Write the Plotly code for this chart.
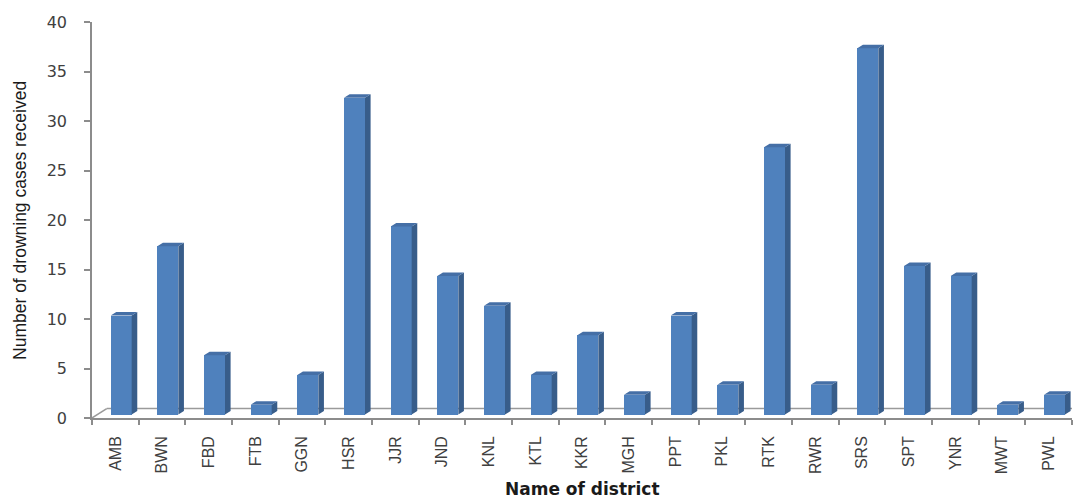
import plotly.graph_objects as go

districts = ["AMB", "BWN", "FBD", "FTB", "GGN", "HSR", "JJR", "JND", "KNL", "KTL", "KKR",
             "MGH", "PPT", "PKL", "RTK", "RWR", "SRS", "SPT", "YNR", "MWT", "PWL"]
cases = [10, 17, 6, 1, 4, 32, 19, 14, 11, 4, 8, 2, 10, 3, 27, 3, 37, 15, 14, 1, 2]
y_ticks = [0, 5, 10, 15, 20, 25, 30, 35, 40]

# style constants for the pseudo-3D look
FRONT = "#4F81BD"
SIDE = "#385D8A"
TOP = "#456FA6"
OFF = -0.10      # front-face start relative to category centre
WIDTH = 0.45     # front-face width (category units)
DX = 0.12        # depth offset, x (category units)
DY = 0.35        # depth offset, y (value units)
BASE = 0.35      # bars sit mid-floor

idx = list(range(len(districts)))

fig = go.Figure()

# front faces
fig.add_trace(go.Bar(x=idx, y=cases, base=[BASE] * len(cases), width=WIDTH, offset=OFF,
                     marker=dict(color=FRONT, line=dict(width=0)), hoverinfo="skip",
                     showlegend=False))

# side and top faces
sx, sy = [], []
tx, ty = [], []
for i, v in zip(idx, cases):
    x0 = i + OFF
    x1 = x0 + WIDTH
    top = BASE + v
    sx += [x1, x1, x1 + DX, x1 + DX, x1, None]
    sy += [BASE, top, top + DY, BASE + DY, BASE, None]
    tx += [x0, x1, x1 + DX, x0 + DX, x0, None]
    ty += [top, top, top + DY, top + DY, top, None]

fig.add_trace(go.Scatter(x=sx, y=sy, mode="lines", fill="toself", fillcolor=SIDE,
                         line=dict(width=0, color=SIDE), hoverinfo="skip", showlegend=False))
fig.add_trace(go.Scatter(x=tx, y=ty, mode="lines", fill="toself", fillcolor=TOP,
                         line=dict(width=0, color=TOP), hoverinfo="skip", showlegend=False))

n = len(districts)
xmin, xmax = -0.5, n - 0.5
FLOOR_DX = 0.315
FLOOR_DY = 0.95
floor_color = "#9A9A9A"
# floor outline (behind bars)
fig.add_shape(type="line", x0=xmin, y0=0, x1=xmin + FLOOR_DX, y1=FLOOR_DY, xref="x", yref="y",
              line=dict(color=floor_color, width=1.5), layer="below")
fig.add_shape(type="line", x0=xmin + FLOOR_DX, y0=FLOOR_DY, x1=xmax, y1=FLOOR_DY, xref="x", yref="y",
              line=dict(color=floor_color, width=1.5), layer="below")

fig.update_layout(
    width=1078, height=499,
    margin=dict(l=92, r=6, t=22, b=81),
    paper_bgcolor="white", plot_bgcolor="white",
    bargap=0,
    xaxis=dict(range=[xmin, xmax], tickmode="array", tickvals=idx, ticktext=districts,
               tickangle=-90, ticks="", showgrid=False, zeroline=False,
               showline=True, linecolor="#8C8C8C", linewidth=1.5,
               tickfont=dict(family="Liberation Sans, Arial", size=16, color="#404040"),
               ticklabelstandoff=10,
               minor=dict(tickmode="array", tickvals=[i - 0.5 for i in range(n + 1)],
                          ticks="outside", ticklen=5, tickcolor="#8C8C8C", tickwidth=1.5,
                          showgrid=False)),
    yaxis=dict(range=[0, 40], tickmode="array", tickvals=y_ticks, ticks="outside", ticklen=6,
               tickcolor="#8C8C8C", tickwidth=1.5, showgrid=False, zeroline=False,
               showline=True, linecolor="#8C8C8C", linewidth=1.5,
               tickfont=dict(family="DejaVu Sans", size=16, color="#404040"),
               ticklabelstandoff=14),
    annotations=[
        dict(text="Number of drowning cases received", xref="paper", yref="paper",
             x=-0.0735, y=0.5, xanchor="center", yanchor="middle", textangle=-90,
             showarrow=False, font=dict(family="Liberation Sans, Arial", size=17.5, color="#1a1a1a")),
        dict(text="<b>Name of district</b>", xref="paper", yref="paper",
             x=0.5, y=-0.18, xanchor="center", yanchor="middle",
             showarrow=False, font=dict(family="DejaVu Sans", size=17, color="#1a1a1a")),
    ],
)

fig.write_html("out.html")
